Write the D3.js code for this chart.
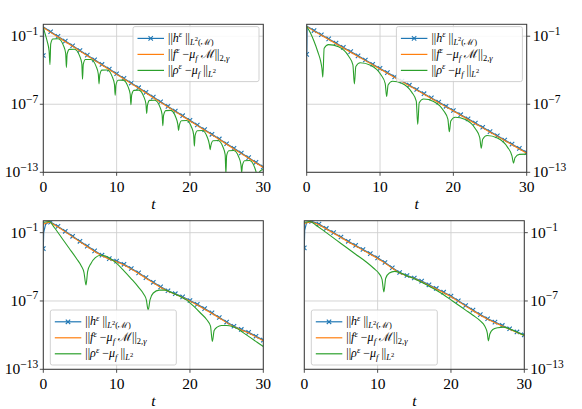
<!DOCTYPE html>
<html><head><meta charset="utf-8">
<script src="https://cdn.jsdelivr.net/npm/d3@7"></script>
</head>
<body style="margin:0">
<svg id="s" width="582" height="409"></svg>
<script>
const FONT = 'Liberation Serif';

// axis ticks
const tTicks = [0, 10, 20, 30];
const yTickExp = [-1, -7, -13];
const markerT = d3.range(0, 31);

// all values are log10 exponents
// ||h|| at t = 0..30 (markers)
const h1 = [-2.7, -0.61, -1.02, -1.43, -1.84, -2.26, -2.67, -3.08, -3.49, -3.9, -4.31, -4.72, -5.13, -5.54, -5.95,
  -6.37, -6.78, -7.19, -7.6, -8.01, -8.42, -8.83, -9.24, -9.65, -10.06, -10.48, -10.89, -11.3, -11.71, -12.12, -12.53];
const h2 = [-2.6, -0.5, -0.87, -1.24, -1.61, -1.99, -2.36, -2.73, -3.1, -3.47, -3.84, -4.21, -4.58, -4.95, -5.32,
  -5.7, -6.07, -6.44, -6.81, -7.18, -7.55, -7.92, -8.29, -8.66, -9.03, -9.41, -9.78, -10.15, -10.52, -10.89, -11.26];
const h3 = [-2.4, -0.07, -0.45, -0.88, -1.32, -1.76, -2.18, -2.6, -2.98, -3.28, -3.5, -3.78, -4.15, -4.53, -4.95,
  -5.36, -5.76, -6.1, -6.36, -6.64, -6.96, -7.3, -7.67, -8.05, -8.45, -8.85, -9.22, -9.5, -9.76, -10.1, -10.44];
const h4 = [-2.34, -0.01, -0.25, -0.63, -1.0, -1.38, -1.76, -2.12, -2.48, -2.84, -3.21, -3.62, -4.08, -4.5, -4.76,
  -4.98, -5.26, -5.58, -5.9, -6.23, -6.57, -6.98, -7.4, -7.8, -8.2, -8.56, -8.86, -9.15, -9.44, -9.72, -9.97];

// early rise of ||h|| between t = 0 and the first marker
const h1Start = [[0.05, -0.2]];
const h2Start = [[0.05, -0.13]];
const h3Start = [[0.05, -1.0], [0.3, -0.3], [0.8, 0.0]];
const h4Start = [[0.05, -0.8], [0.3, -0.15], [0.9, 0.02]];

// ||f - mu M|| start, afterwards it lies on ||h||
const f1Start = [[0, -0.18]];
const f2Start = [[0, -0.1]];
const f3Start = [[0, -0.2], [0.8, 0.0]];
const f4Start = [[0, -0.15], [0.9, 0.02]];

// ||rho - mu|| as [t, exponent]
const rho1 = [[0, -0.25], [0.3, -0.9], [0.55, -1.5], [0.79, -2.3], [0.91, -3.5],
  [1.01, -1.67], [1.31, -1.24], [2.03, -1.23], [2.75, -1.83], [3.05, -2.5], [3.15, -3.75],
  [3.25, -2.59], [3.55, -2.16], [4.25, -2.15], [4.95, -2.73], [5.25, -3.41], [5.35, -4.8],
  [5.45, -3.49], [5.75, -3.06], [6.48, -3.06], [7.2, -3.66], [7.5, -4.33], [7.6, -5.2],
  [7.7, -4.41], [8.0, -3.99], [8.7, -3.98], [9.4, -4.56], [9.7, -5.24], [9.8, -6.2],
  [9.9, -5.32], [10.2, -4.89], [10.88, -4.87], [11.55, -5.45], [11.85, -6.12], [11.95, -7.05],
  [12.05, -6.2], [12.35, -5.78], [13.03, -5.75], [13.7, -6.33], [14.0, -7.0], [14.1, -7.8],
  [14.2, -7.09], [14.5, -6.66], [15.2, -6.65], [15.9, -7.23], [16.2, -7.91], [16.3, -8.9],
  [16.4, -7.99], [16.7, -7.56], [17.38, -7.54], [18.05, -8.12], [18.35, -8.79], [18.45, -9.3],
  [18.55, -8.87], [18.85, -8.45], [19.53, -8.43], [20.2, -9.0], [20.5, -9.68], [20.6, -10.7],
  [20.7, -9.76], [21.0, -9.33], [21.68, -9.31], [22.35, -9.89], [22.65, -10.56], [22.75, -11.0],
  [22.85, -10.64], [23.15, -10.22], [23.83, -10.19], [24.5, -10.77], [24.8, -11.44], [24.9, -13.1],
  [25.0, -11.53], [25.3, -11.1], [25.98, -11.08], [26.65, -11.65], [26.95, -12.33], [27.05, -13.0],
  [27.15, -12.41], [27.45, -11.98], [28.13, -11.96], [28.8, -12.54], [29.1, -13.21], [29.2, -13.6],
  [29.3, -13.29], [29.6, -12.87], [30, -12.75]];
const rho2 = [[0, -0.15], [0.5, -0.7], [1.0, -1.45], [1.5, -2.35], [1.9, -3.2], [2.08, -3.85], [2.2, -4.6],
  [2.38, -2.06], [2.98, -1.74], [4.34, -1.94], [5.7, -2.75], [6.3, -3.52], [6.5, -5.22],
  [6.7, -3.67], [7.3, -3.34], [8.7, -3.56], [10.1, -4.38], [10.7, -5.15], [10.9, -6.32],
  [11.1, -5.3], [11.7, -4.97], [13.02, -5.16], [14.34, -5.95], [14.94, -6.72], [15.14, -8.79],
  [15.34, -6.87], [15.94, -6.54], [17.3, -6.75], [18.65, -7.55], [19.25, -8.32], [19.45, -9.43],
  [19.65, -8.47], [20.25, -8.14], [21.63, -8.35], [23.0, -9.16], [23.6, -9.94], [23.8, -10.88],
  [24.0, -10.08], [24.6, -9.76], [26.0, -9.98], [27.4, -10.8], [28.0, -11.57], [28.2, -12.19],
  [28.4, -11.72], [29.0, -11.42], [30, -11.4]];
const rho3 = [[0, -0.1], [0.8, -0.02], [1.5, -0.55], [2.5, -1.45], [3.5, -2.35], [4.5, -3.25], [5.2, -3.95],
  [5.55, -4.5], [5.82, -5.6],
  [6.05, -4.4], [6.5, -3.7], [7.1, -3.2], [7.8, -2.98], [8.5, -3.05], [9.2, -3.3], [10.0, -3.7], [11.0, -4.35],
  [12.0, -5.05], [13.0, -5.8], [13.7, -6.4], [14.05, -6.9], [14.3, -7.8],
  [14.55, -6.9], [15.0, -6.3], [15.8, -6.05], [16.6, -6.05], [17.5, -6.25], [18.5, -6.55], [19.5, -6.9],
  [20.5, -7.45], [21.5, -8.1], [22.3, -8.65], [22.8, -9.2], [23.05, -10.55],
  [23.3, -9.6], [23.7, -9.3], [24.3, -9.15], [25.0, -9.15], [25.8, -9.25], [26.5, -9.45], [27.3, -9.8],
  [28.2, -10.2], [29.1, -10.6], [30, -11.0]];
const rho4 = [[0, -0.1], [0.8, -0.02], [1.5, -0.3], [3, -1.0], [5, -1.95], [7, -2.9], [8.5, -3.6], [9.5, -4.15],
  [10.2, -4.6], [10.6, -5.1], [10.85, -6.2],
  [11.1, -5.0], [11.6, -4.55], [12.3, -4.4], [13.0, -4.5], [14, -4.8], [15, -5.05], [16, -5.35], [17, -5.7],
  [18, -6.05], [19, -6.45], [20, -6.9], [21, -7.35], [22, -7.8], [23, -8.25], [24, -8.75], [24.6, -9.2],
  [24.95, -9.8], [25.1, -10.5],
  [25.3, -9.9], [25.7, -9.5], [26.4, -9.35], [27.2, -9.3], [28.2, -9.5], [29.1, -9.76], [30, -10.02]];

const COLORS = { h: '#1f77b4', f: '#ff7f0e', rho: '#2ca02c' };

const panels = [
  { x0: 43.3, x1: 263.3, y0: 24.3, y1: 172.3, side: 'left', legend: 'top', h: h1, hStart: h1Start, fStart: f1Start, rho: rho1 },
  { x0: 306.7, x1: 526.7, y0: 24.3, y1: 172.3, side: 'right', legend: 'top', h: h2, hStart: h2Start, fStart: f2Start, rho: rho2 },
  { x0: 43.3, x1: 263.3, y0: 220.7, y1: 369.3, side: 'left', legend: 'bottom', h: h3, hStart: h3Start, fStart: f3Start, rho: rho3 },
  { x0: 304.3, x1: 524.3, y0: 220.7, y1: 369.3, side: 'right', legend: 'bottom', h: h4, hStart: h4Start, fStart: f4Start, rho: rho4 },
];

const NB = '\u00a0';
const legendRows = [
  { key: 'h', parts: [['||', 'b'], ['h', 'b', 1], ['ε', 'p', 1], [NB + '||', 'b'], ['L', 's', 1], ['2', 'q'], ['(ℳ)', 's']] },
  { key: 'f', parts: [['||', 'b'], ['f', 'b', 1], ['ε', 'p', 1], [NB + '−', 'b'], ['μ', 'b', 1], ['f', 's', 1], [NB + 'ℳ', 'b'], ['||', 'b'], ['2,', 's'], ['γ', 's', 1]] },
  { key: 'rho', parts: [['||', 'b'], ['ρ', 'b', 1], ['ε', 'p', 1], [NB + '−', 'b'], ['μ', 'b', 1], ['f', 's', 1], [NB + '||', 'b'], ['L', 's', 1], ['2', 'q']] },
];

const svg = d3.select('#s');
const LEVELS = { b: [12, 0], p: [8.5, -4.5], s: [8.5, 3], q: [6.5, -0.5] };

// text goes straight into the svg, after all the marks
const texts = [];

function mathText(x, y, parts) {
  texts.push(() => {
    const txt = svg.append('text').attr('x', x).attr('y', y).attr('font-family', FONT).attr('font-size', 12);
    let cur = 0;
    parts.forEach(([s, lvl, it]) => {
      const [size, shift] = LEVELS[lvl];
      const ts = txt.append('tspan').attr('dy', shift - cur).attr('font-size', size);
      if (it) ts.attr('font-style', 'italic');
      ts.text(s);
      cur = shift;
    });
  });
}

function powLabel(x, y, e, anchor) {
  texts.push(() => {
    const txt = svg.append('text').attr('x', x).attr('y', y).attr('text-anchor', anchor)
      .attr('font-family', FONT).attr('font-size', 15.5);
    txt.append('tspan').text('10');
    txt.append('tspan').attr('dy', -6.5).attr('font-size', 11.5).text('−' + Math.abs(e));
  });
}

function plainText(x, y, s, italic) {
  texts.push(() => {
    const txt = svg.append('text').attr('x', x).attr('y', y).attr('text-anchor', 'middle')
      .attr('font-family', FONT).attr('font-size', 15.5).text(s);
    if (italic) txt.attr('font-style', 'italic');
  });
}

const toVal = (arr) => arr.map(([t, e]) => [t, Math.pow(10, e)]);

panels.forEach((p, i) => {
  const x = d3.scaleLinear().domain([0, 30]).range([p.x0, p.x1]);
  const y = d3.scaleLog().domain([1e-13, Math.pow(10, 0.05)]).range([p.y1, p.y0]);
  const g = svg.append('g');

  g.append('clipPath').attr('id', `clip-${i}`)
    .append('rect').attr('x', p.x0).attr('y', p.y0).attr('width', p.x1 - p.x0).attr('height', p.y1 - p.y0);

  // grid
  const grid = g.append('g').attr('stroke', '#d0d0d0').attr('stroke-width', 0.9);
  tTicks.forEach((t) => grid.append('line').attr('x1', x(t)).attr('x2', x(t)).attr('y1', p.y0).attr('y2', p.y1));
  yTickExp.forEach((e) => grid.append('line').attr('x1', p.x0).attr('x2', p.x1).attr('y1', y(Math.pow(10, e))).attr('y2', y(Math.pow(10, e))));

  const line = d3.line().x((d) => x(d[0])).y((d) => y(d[1]));
  const plot = g.append('g').attr('clip-path', `url(#clip-${i})`);

  const hPts = toVal([[0, p.h[0]], ...p.hStart, ...p.h.slice(1).map((e, k) => [k + 1, e])]);
  const fPts = toVal([...p.fStart, ...p.h.slice(1).map((e, k) => [k + 1, e])]);

  plot.append('path').attr('d', line(hPts)).attr('fill', 'none').attr('stroke', COLORS.h).attr('stroke-width', 1.2);
  plot.append('g').selectAll('path').data(markerT).join('path')
    .attr('transform', (t) => `translate(${x(t)},${y(Math.pow(10, p.h[t]))})`)
    .attr('d', 'M-2.2,-2.2L2.2,2.2M-2.2,2.2L2.2,-2.2')
    .attr('stroke', COLORS.h).attr('stroke-width', 1.1).attr('fill', 'none');
  plot.append('path').attr('d', line(fPts)).attr('fill', 'none').attr('stroke', COLORS.f)
    .attr('stroke-width', 1.1).attr('transform', 'translate(0,0.6)');
  plot.append('path').attr('d', line.curve(d3.curveMonotoneX)(toVal(p.rho)))
    .attr('fill', 'none').attr('stroke', COLORS.rho).attr('stroke-width', 1.1);

  // frame
  g.append('rect').attr('x', p.x0).attr('y', p.y0).attr('width', p.x1 - p.x0).attr('height', p.y1 - p.y0)
    .attr('fill', 'none').attr('stroke', '#3a3a3a').attr('stroke-width', 1);

  // ticks
  const ticks = g.append('g').attr('stroke', '#3a3a3a').attr('stroke-width', 0.9);
  tTicks.forEach((t) => {
    ticks.append('line').attr('x1', x(t)).attr('x2', x(t)).attr('y1', p.y1).attr('y2', p.y1 + 3.5);
    plainText(x(t), p.y1 + 20, String(t), false);
  });
  yTickExp.forEach((e) => {
    const yy = y(Math.pow(10, e));
    if (p.side === 'left') {
      ticks.append('line').attr('x1', p.x0 - 3.5).attr('x2', p.x0).attr('y1', yy).attr('y2', yy);
      powLabel(p.x0 - 5, yy + 5, e, 'end');
    } else {
      ticks.append('line').attr('x1', p.x1).attr('x2', p.x1 + 3.5).attr('y1', yy).attr('y2', yy);
      powLabel(p.x1 + 6, yy + 5, e, 'start');
    }
  });
  plainText((p.x0 + p.x1) / 2, p.y1 + 37, 't', true);

  // legend
  const lw = 126, lh = 55;
  const lx = p.legend === 'top' ? p.x1 - 130.3 : p.x0 + 7;
  const ly = p.legend === 'top' ? p.y0 + 2.3 : p.y1 - 4.3 - lh;
  const lg = g.append('g');
  lg.append('rect').attr('x', lx).attr('y', ly).attr('width', lw).attr('height', lh).attr('rx', 2)
    .attr('fill', '#fff').attr('fill-opacity', 0.85).attr('stroke', '#cccccc').attr('stroke-width', 0.9);
  legendRows.forEach((r, k) => {
    const ry = ly + 11.8 + k * 16;
    lg.append('line').attr('x1', lx + 4.5).attr('x2', lx + 31).attr('y1', ry).attr('y2', ry)
      .attr('stroke', COLORS[r.key]).attr('stroke-width', 1.2);
    if (r.key === 'h') {
      lg.append('path').attr('transform', `translate(${lx + 17.7},${ry})`)
        .attr('d', 'M-2.2,-2.2L2.2,2.2M-2.2,2.2L2.2,-2.2').attr('stroke', COLORS.h).attr('stroke-width', 1.1);
    }
    mathText(lx + 35, ry + 3.5, r.parts);
  });
});

texts.forEach((draw) => draw());
</script>
</body></html>
